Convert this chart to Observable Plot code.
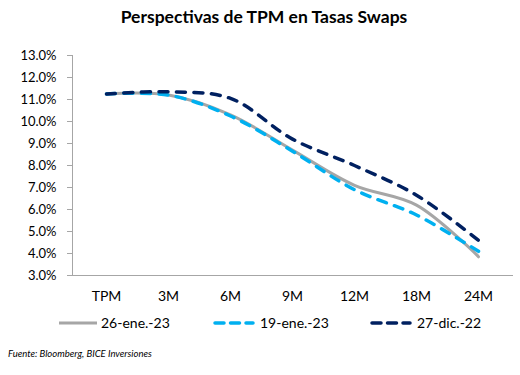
<!DOCTYPE html>
<html>
<head>
<meta charset="utf-8">
<script src="https://cdn.jsdelivr.net/npm/d3@7"></script>
<script src="https://cdn.jsdelivr.net/npm/@observablehq/plot@0.6"></script>
<style>
  html, body { margin: 0; padding: 0; background: #fff; }
  #wrap { position: relative; width: 520px; height: 375px; font-family: Lato, "Open Sans", sans-serif; color: #000; }
  #title { position: absolute; left: 0; top: 5px; width: 528px; text-align: center; font-weight: bold; font-size: 17.5px; line-height: 24px; }
  #chart { position: absolute; left: 0; top: 38px; }
  #legend { position: absolute; left: 0; top: 313px; width: 520px; height: 20px; }
  .item { position: absolute; top: 0; height: 20px; font-size: 14px; line-height: 20px; }
  .item svg { position: absolute; left: 0; top: 0; }
  .item span { position: absolute; white-space: nowrap; }
  #caption { position: absolute; left: 8px; top: 348px; font-size: 9.5px; font-style: italic; white-space: nowrap; }
</style>
</head>
<body>
<div id="wrap">
  <div id="title">Perspectivas de TPM en Tasas Swaps</div>
  <div id="chart"></div>
  <div id="legend"></div>
  <div id="caption">Fuente: Bloomberg, BICE Inversiones</div>
</div>
<script>
const categories = ["TPM", "3M", "6M", "9M", "12M", "18M", "24M"];
const seriesNames = ["26-ene.-23", "19-ene.-23", "27-dic.-22"];
const s26ene23 = [11.25, 11.2, 10.3, 8.7, 7.1, 6.2, 3.85];
const s19ene23 = [11.25, 11.2, 10.25, 8.65, 6.9, 5.75, 4.1];
const s27dic22 = [11.25, 11.35, 11.05, 9.2, 8.0, 6.65, 4.6];
const yTicks = [3, 4, 5, 6, 7, 8, 9, 10, 11, 12, 13];

const seriesValues = [s26ene23, s19ene23, s27dic22];
const styles = [
  {stroke: "#a6a6a6", strokeWidth: 3, dash: null},
  {stroke: "#00b0f0", strokeWidth: 3.5, dash: "9,8.5"},
  {stroke: "#002060", strokeWidth: 3.5, dash: "9,8.5"}
];

const rows = [];
seriesNames.forEach((name, i) => {
  categories.forEach((c, j) => rows.push({series: name, cat: c, value: seriesValues[i][j]}));
});

const lineMarks = seriesNames.map((name, i) => Plot.line(rows.filter(d => d.series === name), {
  x: "cat", y: "value",
  stroke: styles[i].stroke,
  strokeWidth: styles[i].strokeWidth,
  strokeDasharray: styles[i].dash,
  strokeLinecap: "round",
  curve: "catmull-rom"
}));

const chart = Plot.plot({
  width: 520,
  height: 272,
  marginTop: 17,
  marginBottom: 35,
  marginLeft: 72,
  marginRight: 8,
  style: {fontFamily: "Lato, 'Open Sans', sans-serif", color: "#000", background: "#fff"},
  x: {type: "point", domain: categories, padding: 0.5},
  y: {domain: [3, 13]},
  marks: [
    Plot.axisY({ticks: yTicks, tickFormat: d => d.toFixed(1) + "%", tickSize: 5, tickPadding: 11, fontSize: 13, stroke: "#a6a6a6", label: null}),
    Plot.axisX({tickSize: 0, tickPadding: 16, fontSize: 14, label: null}),
    Plot.frame({anchor: "left", stroke: "#a6a6a6"}),
    Plot.frame({anchor: "bottom", stroke: "#a6a6a6"}),
    ...lineMarks
  ]
});
chart.querySelectorAll("[aria-label='y-axis tick label'] text, [aria-label='x-axis tick label'] text").forEach(t => t.setAttribute("fill", "#000"));
document.getElementById("chart").appendChild(chart);

// Legend
const legendPos = [57, 213, 370];
const legend = document.getElementById("legend");
seriesNames.forEach((name, i) => {
  const item = document.createElement("div");
  item.className = "item";
  item.style.left = legendPos[i] + "px";
  const st = styles[i];
  item.innerHTML = `<svg width="44" height="20"><line x1="2" x2="40" y1="10" y2="10" stroke="${st.stroke}" stroke-width="${st.strokeWidth}" ${st.dash ? `stroke-dasharray="9,6.5" stroke-linecap="round"` : ""}/></svg><span style="left:${i === 0 ? 44 : 47}px">${name}</span>`;
  legend.appendChild(item);
});
</script>
</body>
</html>
